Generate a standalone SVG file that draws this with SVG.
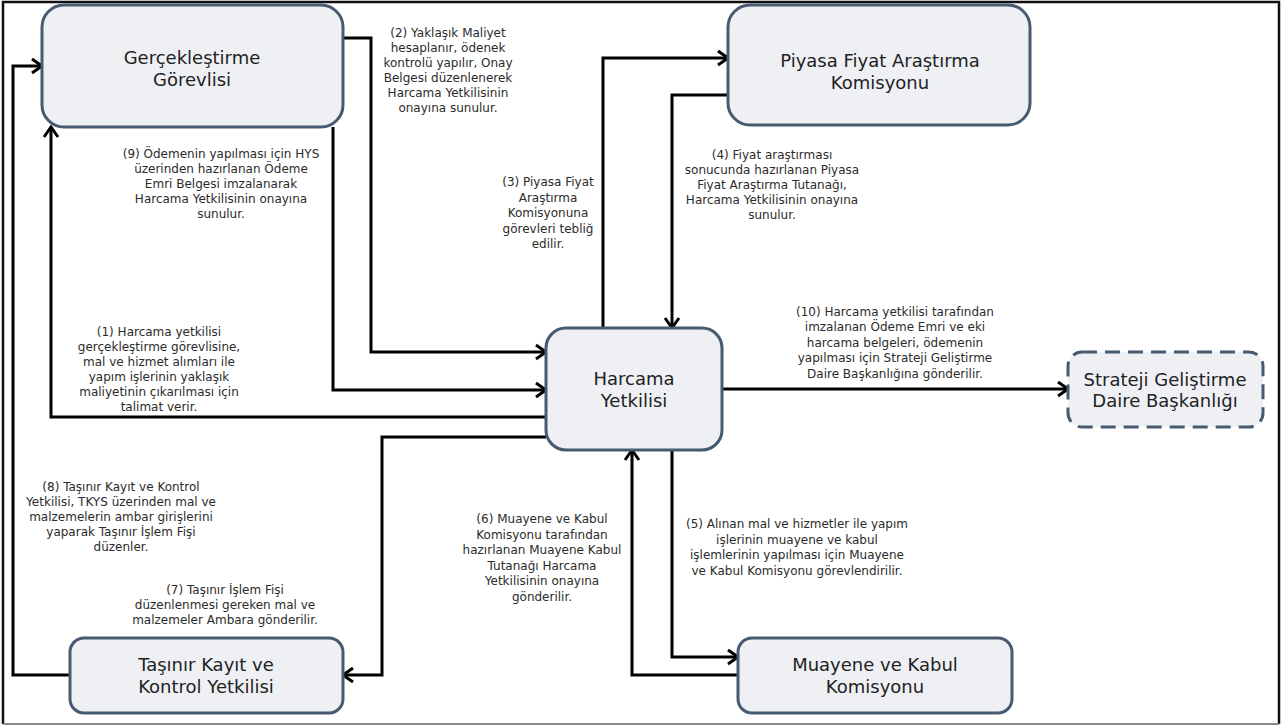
<svg xmlns="http://www.w3.org/2000/svg" width="1284" height="727" viewBox="0 0 1284 727">
<style>
.node rect{fill:#eef0f4;stroke:#475a70;stroke-width:3}
.dash rect{stroke-dasharray:15 8}
.nt{font-family:"DejaVu Sans",Verdana,sans-serif;font-size:18px;fill:#222;text-anchor:middle}
.lb{font-family:"DejaVu Sans",Verdana,sans-serif;font-size:12px;fill:#2b2b2b;text-anchor:middle}
.con path{fill:none;stroke:#000;stroke-width:3;stroke-linejoin:miter}
.arr{marker-end:url(#ah)}
</style>
<defs>
<marker id="ah" markerUnits="userSpaceOnUse" markerWidth="16" markerHeight="18" refX="11" refY="8" orient="auto" overflow="visible">
<path d="M1,1 L11,8 L1,15" fill="none" stroke="#000" stroke-width="3"/>
</marker>
</defs>
<rect width="1284" height="727" fill="#fff"/>
<path d="M3,724 V2 H1279 V724" fill="none" stroke="#111" stroke-width="2.5"/>
<path d="M3,724 H1279" fill="none" stroke="#888" stroke-width="2"/>

<g class="con" id="connectors">
<path class="arr" d="M343,38 H371 V352 H546"/>
<path class="arr" d="M333,127 V390 H546"/>
<path class="arr" d="M546,417 H51 V127"/>
<path class="arr" d="M546,437 H382 V675 H343"/>
<path class="arr" d="M70,675 H13 V66 H42"/>
<path class="arr" d="M603,328 V58 H728"/>
<path class="arr" d="M728,95 H672 V328"/>
<path class="arr" d="M722,389 H1068"/>
<path class="arr" d="M672,450 V657 H738"/>
<path class="arr" d="M738,675 H632 V450"/>
</g>

<g id="gercek" class="node">
<rect x="42" y="5" width="301" height="122" rx="22"/>
<text class="nt" x="192" y="64">Gerçekleştirme</text>
<text class="nt" x="192" y="86">Görevlisi</text>
</g>
<g id="piyasa" class="node">
<rect x="728" y="5" width="302" height="120" rx="22"/>
<text class="nt" x="880" y="67">Piyasa Fiyat Araştırma</text>
<text class="nt" x="880" y="89">Komisyonu</text>
</g>
<g id="harcama" class="node">
<rect x="546" y="328" width="176" height="122" rx="20"/>
<text class="nt" x="634" y="385">Harcama</text>
<text class="nt" x="634" y="407">Yetkilisi</text>
</g>
<g id="strateji" class="node dash">
<rect x="1068" y="352" width="195" height="75" rx="14"/>
<text class="nt" x="1165" y="386">Strateji Geliştirme</text>
<text class="nt" x="1165" y="407">Daire Başkanlığı</text>
</g>
<g id="tasinir" class="node">
<rect x="70" y="638" width="273" height="75" rx="14"/>
<text class="nt" x="206" y="671">Taşınır Kayıt ve</text>
<text class="nt" x="206" y="693">Kontrol Yetkilisi</text>
</g>
<g id="muayene" class="node">
<rect x="738" y="638" width="274" height="75" rx="14"/>
<text class="nt" x="875" y="671">Muayene ve Kabul</text>
<text class="nt" x="875" y="693">Komisyonu</text>
</g>

<g id="labels">
<text class="lb" x="448" y="37">(2) Yaklaşık Maliyet</text>
<text class="lb" x="448" y="52">hesaplanır, ödenek</text>
<text class="lb" x="448" y="67">kontrolü yapılır, Onay</text>
<text class="lb" x="448" y="82">Belgesi düzenlenerek</text>
<text class="lb" x="448" y="97">Harcama Yetkilisinin</text>
<text class="lb" x="448" y="112">onayına sunulur.</text>

<text class="lb" x="221" y="158">(9) Ödemenin yapılması için HYS</text>
<text class="lb" x="221" y="173">üzerinden hazırlanan Ödeme</text>
<text class="lb" x="221" y="188">Emri Belgesi imzalanarak</text>
<text class="lb" x="221" y="203">Harcama Yetkilisinin onayına</text>
<text class="lb" x="221" y="218">sunulur.</text>

<text class="lb" x="548" y="186">(3) Piyasa Fiyat</text>
<text class="lb" x="548" y="201.5">Araştırma</text>
<text class="lb" x="548" y="217">Komisyonuna</text>
<text class="lb" x="548" y="232.5">görevleri tebliğ</text>
<text class="lb" x="548" y="248">edilir.</text>

<text class="lb" x="772" y="159">(4) Fiyat araştırması</text>
<text class="lb" x="772" y="174">sonucunda hazırlanan Piyasa</text>
<text class="lb" x="772" y="189">Fiyat Araştırma Tutanağı,</text>
<text class="lb" x="772" y="204">Harcama Yetkilisinin onayına</text>
<text class="lb" x="772" y="219">sunulur.</text>

<text class="lb" x="159" y="336">(1) Harcama yetkilisi</text>
<text class="lb" x="159" y="351">gerçekleştirme görevlisine,</text>
<text class="lb" x="159" y="366">mal ve hizmet alımları ile</text>
<text class="lb" x="159" y="381">yapım işlerinin yaklaşık</text>
<text class="lb" x="159" y="396">maliyetinin çıkarılması için</text>
<text class="lb" x="159" y="411">talimat verir.</text>

<text class="lb" x="895" y="316">(10) Harcama yetkilisi tarafından</text>
<text class="lb" x="895" y="331">imzalanan Ödeme Emri ve eki</text>
<text class="lb" x="895" y="347">harcama belgeleri, ödemenin</text>
<text class="lb" x="895" y="362">yapılması için Strateji Geliştirme</text>
<text class="lb" x="895" y="378">Daire Başkanlığına gönderilir.</text>

<text class="lb" x="121" y="491">(8) Taşınır Kayıt ve Kontrol</text>
<text class="lb" x="121" y="506">Yetkilisi, TKYS üzerinden mal ve</text>
<text class="lb" x="121" y="521">malzemelerin ambar girişlerini</text>
<text class="lb" x="121" y="536">yaparak Taşınır İşlem Fişi</text>
<text class="lb" x="121" y="551">düzenler.</text>

<text class="lb" x="225" y="594">(7) Taşınır İşlem Fişi</text>
<text class="lb" x="225" y="609">düzenlenmesi gereken mal ve</text>
<text class="lb" x="225" y="624">malzemeler Ambara gönderilir.</text>

<text class="lb" x="542" y="523">(6) Muayene ve Kabul</text>
<text class="lb" x="542" y="538.5">Komisyonu tarafından</text>
<text class="lb" x="542" y="554">hazırlanan Muayene Kabul</text>
<text class="lb" x="542" y="569.5">Tutanağı Harcama</text>
<text class="lb" x="542" y="585">Yetkilisinin onayına</text>
<text class="lb" x="542" y="600.5">gönderilir.</text>

<text class="lb" x="797" y="528">(5) Alınan mal ve hizmetler ile yapım</text>
<text class="lb" x="797" y="543.5">işlerinin muayene ve kabul</text>
<text class="lb" x="797" y="559">işlemlerinin yapılması için Muayene</text>
<text class="lb" x="797" y="574.5">ve Kabul Komisyonu görevlendirilir.</text>
</g>
</svg>
